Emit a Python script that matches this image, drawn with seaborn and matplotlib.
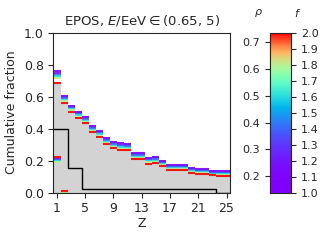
import numpy as np
import pandas as pd
import seaborn as sns
import matplotlib.pyplot as plt
from matplotlib.cm import ScalarMappable
from matplotlib.colors import Normalize, ListedColormap

# charge bins
z = np.arange(1, 26)

# cumulative fraction for each f value
f_levels = [1.0, 1.2, 1.4, 1.6, 1.8, 2.0]
frac_f10 = [0.760, 0.606, 0.544, 0.505, 0.473, 0.417, 0.388, 0.342, 0.318, 0.308, 0.305, 0.248, 0.248,
            0.219, 0.224, 0.198, 0.173, 0.173, 0.173, 0.156, 0.150, 0.150, 0.136, 0.134, 0.134]
frac_f12 = [0.749, 0.598, 0.537, 0.498, 0.466, 0.410, 0.381, 0.335, 0.311, 0.301, 0.297, 0.241, 0.241,
            0.212, 0.217, 0.193, 0.168, 0.168, 0.167, 0.150, 0.144, 0.144, 0.130, 0.128, 0.128]
frac_f14 = [0.738, 0.589, 0.529, 0.491, 0.458, 0.402, 0.373, 0.327, 0.303, 0.293, 0.289, 0.233, 0.233,
            0.205, 0.209, 0.187, 0.162, 0.162, 0.160, 0.144, 0.138, 0.138, 0.124, 0.122, 0.122]
frac_f16 = [0.727, 0.580, 0.522, 0.483, 0.450, 0.393, 0.365, 0.319, 0.294, 0.284, 0.281, 0.225, 0.225,
            0.197, 0.201, 0.180, 0.156, 0.156, 0.154, 0.137, 0.131, 0.131, 0.118, 0.116, 0.116]
frac_f18 = [0.716, 0.570, 0.514, 0.476, 0.442, 0.385, 0.357, 0.311, 0.285, 0.275, 0.273, 0.216, 0.216,
            0.189, 0.193, 0.174, 0.150, 0.150, 0.148, 0.131, 0.125, 0.125, 0.112, 0.110, 0.110]
frac_f20 = [0.684, 0.559, 0.506, 0.468, 0.434, 0.377, 0.350, 0.304, 0.277, 0.267, 0.265, 0.208, 0.208,
            0.182, 0.185, 0.169, 0.145, 0.145, 0.142, 0.125, 0.120, 0.120, 0.108, 0.106, 0.106]

# small second set at Z = 1, 2
low_z = np.array([1, 2])
low_f10 = [0.212, 0.006]
low_f12 = [0.207, 0.006]
low_f14 = [0.202, 0.006]
low_f16 = [0.197, 0.006]
low_f18 = [0.192, 0.007]
low_f20 = [0.222, 0.008]

# black reference curve
ref_frac = [0.40, 0.40, 0.153, 0.153] + [0.023] * 19 + [0.0, 0.0]

# colorbar ranges
f_range = (1.0, 2.0)
rho_range = (0.139, 0.735)

# rainbow, stretched so that the blues take up more of the bar
cmap = ListedColormap(plt.get_cmap("rainbow")(np.linspace(0, 1, 256) ** 2.2))

curves = [frac_f10, frac_f12, frac_f14, frac_f16, frac_f18, frac_f20]
low_curves = [low_f10, low_f12, low_f14, low_f16, low_f18, low_f20]
df = pd.concat([pd.DataFrame({"Z": z, "frac": c, "f": f}) for f, c in zip(f_levels, curves)] +
               [pd.DataFrame({"Z": low_z, "frac": c, "f": f}) for f, c in zip(f_levels, low_curves)],
               ignore_index=True)
df["seg"] = df.index
# each bin as its own flat segment
seg_df = pd.concat([df.assign(x=df["Z"] - 0.5), df.assign(x=df["Z"] + 0.5)], ignore_index=True)

df_fill = pd.DataFrame({"Z": z, "frac": frac_f20})
df_ref = pd.DataFrame({"Z": z, "frac": ref_frac})

sns.set_style("ticks")
plt.rcParams.update({"font.size": 9, "axes.titlesize": 9.5, "axes.labelsize": 9,
                     "xtick.labelsize": 9, "ytick.labelsize": 9})

fig = plt.figure(figsize=(3.2, 2.4), dpi=100)
ax = fig.add_axes([0.167, 0.197, 0.552, 0.667])

edges = list(np.append(z - 0.5, z[-1] + 0.5))

sns.histplot(data=df_fill, x="Z", weights="frac", bins=edges, element="step", fill=True,
             color="lightgray", alpha=1, linewidth=0, ax=ax)
sns.histplot(data=df_ref, x="Z", weights="frac", bins=edges, element="step", fill=False,
             color="black", linewidth=1.0, ax=ax)
sns.lineplot(data=seg_df, x="x", y="frac", hue="f", units="seg", estimator=None,
             palette=cmap, hue_norm=f_range, linewidth=1.5, alpha=0.9, legend=False,
             solid_capstyle="butt", ax=ax)

ax.set_xlim(0.5, 25.5)
ax.set_ylim(0, 1)
ax.set_xticks(np.arange(1, 26, 4))
ax.set_yticks(np.arange(0, 1.01, 0.2))
ax.set_xlabel("Z", labelpad=1)
ax.set_ylabel("Cumulative fraction")
ax.set_title(r"EPOS, $E$/EeV$\in$(0.65, 5)", pad=6)

# colorbar with f on the right, rho on the left
cax = fig.add_axes([0.844, 0.197, 0.066, 0.667])
sm = ScalarMappable(norm=Normalize(*f_range), cmap=cmap)
cb = fig.colorbar(sm, cax=cax, ticks=np.arange(1.0, 2.01, 0.1), format="%.1f")
cb.ax.tick_params(labelsize=8)
cb.outline.set_linewidth(0.8)

def f_to_rho(f):
    return rho_range[0] + (f - f_range[0]) * (rho_range[1] - rho_range[0]) / (f_range[1] - f_range[0])

def rho_to_f(r):
    return f_range[0] + (r - rho_range[0]) * (f_range[1] - f_range[0]) / (rho_range[1] - rho_range[0])

rho_ax = cax.secondary_yaxis("left", functions=(f_to_rho, rho_to_f))
rho_ax.set_yticks(np.arange(0.2, 0.71, 0.1))
rho_ax.tick_params(labelsize=8)
cax.text(-0.57, 1.12, r"$\rho$", transform=cax.transAxes, ha="center", va="center", fontsize=8)
cax.text(1.29, 1.12, r"$f$", transform=cax.transAxes, ha="center", va="center", fontsize=8)

plt.savefig("out.png", dpi=100)
